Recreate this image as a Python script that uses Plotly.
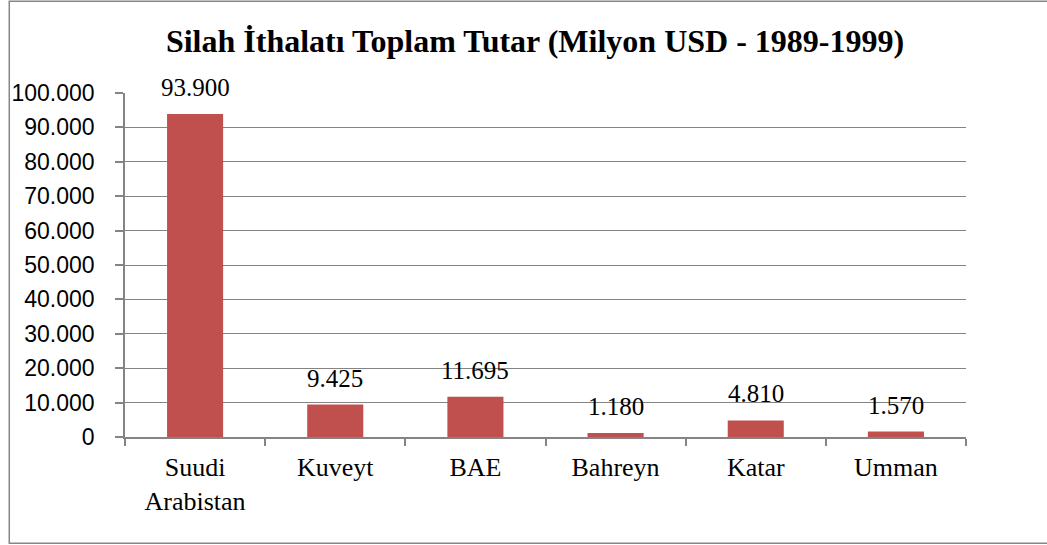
import plotly.graph_objects as go

categories = ["Suudi<br>Arabistan", "Kuveyt", "BAE", "Bahreyn", "Katar", "Umman"]
values = [93900, 9425, 11695, 1180, 4810, 1570]
value_labels = ["93.900", "9.425", "11.695", "1.180", "4.810", "1.570"]
title_text = "Silah İthalatı Toplam Tutar (Milyon USD - 1989-1999)"

BAR = "#C0504D"
GRID = "#848484"

fig = go.Figure()
fig.add_trace(go.Bar(x=categories, y=values, marker=dict(color=BAR, line=dict(width=0)),
                     hoverinfo="skip"))

for c, v, t in zip(categories, values, value_labels):
    fig.add_annotation(x=c, y=v, text=t, showarrow=False, yanchor="bottom",
                       yshift=11, font=dict(family="Liberation Serif, Times New Roman, serif",
                                            size=25, color="black"))

L, R, T, B = 123, 81, 92.7, 108.3
W, H = 1047, 545
pw, ph = W - L - R, H - T - B

# outer chart border in paper coordinates
fig.add_shape(type="rect", xref="paper", yref="paper",
              x0=(7 - L) / pw, x1=(1060 - L) / pw,
              y0=(H - B - 543) / ph, y1=(H - B - 1) / ph,
              line=dict(color="#868686", width=1.5), layer="below")

fig.update_layout(
    width=W, height=H,
    margin=dict(l=L, r=R, t=T, b=B, pad=0),
    paper_bgcolor="white", plot_bgcolor="white",
    separators=",.",
    bargap=0.6,
    showlegend=False,
    title=dict(text=f"<b>{title_text}</b>", x=(534 - L) / pw, xref="paper", xanchor="center",
               y=1 - 40.5 / H, yref="container", yanchor="middle",
               font=dict(family="Liberation Serif, Times New Roman, serif", size=32, color="black")),
    xaxis=dict(type="category", showgrid=False, showline=True, linecolor=GRID, linewidth=1.5,
               ticks="outside", ticklen=7, tickcolor=GRID, tickwidth=1.5, tickson="boundaries",
               ticklabelstandoff=6,
               tickfont=dict(family="Liberation Serif, Times New Roman, serif", size=26, color="black")),
    yaxis=dict(range=[0, 100000], dtick=10000, tickformat=",d", showgrid=True, gridcolor=GRID,
               gridwidth=1.3, showline=True, linecolor=GRID, linewidth=1.5, zeroline=False,
               ticks="outside", ticklen=8, tickcolor=GRID, tickwidth=1.5,
               ticklabelstandoff=16,
               tickfont=dict(family="Liberation Sans, Arial, sans-serif", size=23, color="black")),
)

fig.write_html("out.html", config={"displayModeBar": False},
               post_script="document.body.style.margin='0px';document.body.style.overflow='hidden';")
